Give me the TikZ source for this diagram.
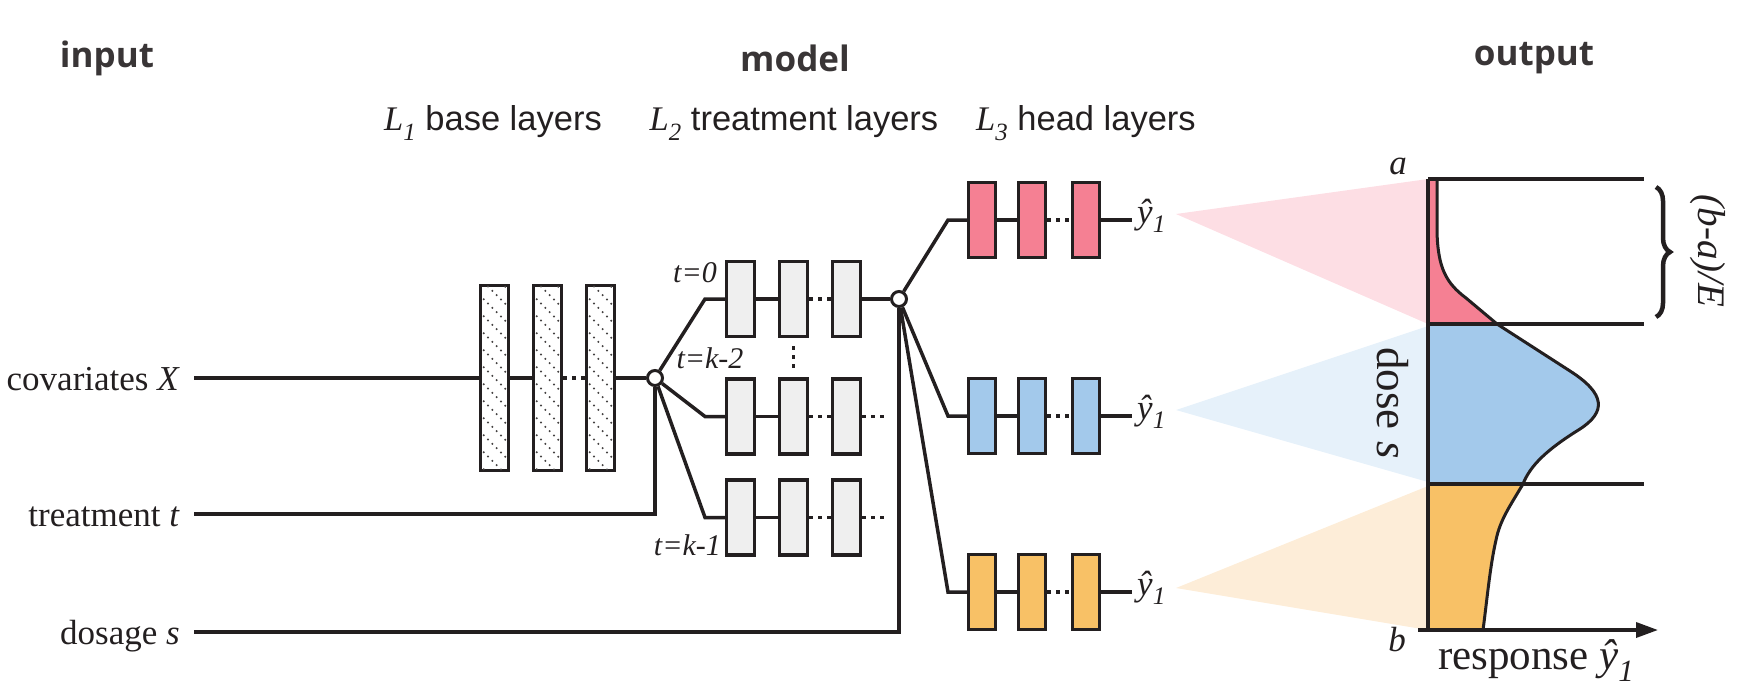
\documentclass[tikz,border=0pt]{standalone}
\usepackage{fontspec}
\usepackage{graphicx}
\setmainfont{Liberation Serif}
\newfontfamily\headfont{Open Sans}
\newfontfamily\sansf{Liberation Sans}
\usetikzlibrary{arrows.meta,decorations.pathreplacing,calc}
\definecolor{ink}{HTML}{231F20}
\definecolor{pinkf}{HTML}{F58093}
\definecolor{bluef}{HTML}{A3C9EB}
\definecolor{orangef}{HTML}{F8C166}
\definecolor{pinkl}{HTML}{FDDEE4}
\definecolor{bluel}{HTML}{E6F1FA}
\definecolor{orangel}{HTML}{FDEDD8}
\definecolor{grayf}{HTML}{EFEFEF}
\newcommand\mysub[1]{\raisebox{-0.28em}{\scalebox{0.72}{\rmfamily\itshape #1}}}
\tikzset{
  ln/.style={line width=3.5pt, draw=ink},
  dotc/.style={line width=3.5pt, draw=ink, dash pattern=on 4pt off 5pt},
  brect/.style={rectangle, draw=ink, line width=3.5pt, fill=white, minimum width=28pt, minimum height=185pt, inner sep=0pt},
  trect/.style={rectangle, draw=ink, line width=3.5pt, fill=grayf, minimum width=28pt, minimum height=75pt, inner sep=0pt},
  hrect/.style={rectangle, draw=ink, line width=3.5pt, minimum width=27pt, minimum height=75pt, inner sep=0pt},
  junc/.style={circle, draw=ink, fill=white, line width=3pt, minimum size=15pt, inner sep=0pt},
  hatch/.style={line width=1.6pt, draw=ink!85, dash pattern=on 1.6pt off 4.5pt},
  lab/.style={font=\fontsize{35}{42}\selectfont, inner sep=0pt, text=ink},
  ilab/.style={font=\itshape\fontsize{35}{42}\selectfont, inner sep=0pt, text=ink},
  big/.style={font=\fontsize{45}{54}\selectfont, inner sep=0pt, text=ink},
  headlab/.style={font=\headfont\bfseries\fontsize{35}{42}\selectfont, inner sep=0pt, text=ink!90},
  sublab/.style={font=\sansf\fontsize{34.5}{40}\selectfont, inner sep=0pt, text=ink},
  tlab/.style={font=\itshape\fontsize{30}{36}\selectfont, inner sep=0pt, text=ink},
}
\begin{document}
\begin{tikzpicture}[x=1pt,y=-1pt]
\useasboundingbox (0,0) rectangle (1763,686);

% headings
\node[headlab] (hin) at (107,58) {input};
\node[headlab] (hmod) at (795,58) {model};
\node[headlab] (hout) at (1534,58) {output};
\node[sublab] (s1) at (493,123) {{\rmfamily\itshape L}\mysub{1} base layers};
\node[sublab] (s2) at (794,123) {{\rmfamily\itshape L}\mysub{2} treatment layers};
\node[sublab] (s3) at (1086,123) {{\rmfamily\itshape L}\mysub{3} head layers};

% input labels
\node[lab, anchor=base east] (lx) at (180,390) {covariates \textit{X}};
\node[lab, anchor=base east] (lt) at (180,526) {treatment \textit{t}};
\node[lab, anchor=base east] (ls) at (180,644) {dosage \textit{s}};
\coordinate (xin) at (194,378);
\coordinate (tin) at (194,514);
\coordinate (sin) at (194,632);

% base layers
\foreach \i/\x in {1/494.5,2/547.5,3/600.5}{
  \node[brect] (b\i) at (\x,378) {};
  \begin{scope}
    \clip ([shift={(1.75,1.75)}]b\i.north west) rectangle ([shift={(-1.75,-1.75)}]b\i.south east);
    \foreach \c in {-119,-102,...,119}
      \draw[hatch] ($(b\i.center)+(-20,\c-20)$) -- ++(40,40);
  \end{scope}
}

% junctions
\node[junc] (c1) at (655,378) {};
\node[junc] (c2) at (899,299) {};

% treatment layers
\foreach \r/\y in {1/299,2/416.5,3/517.5}{
  \foreach \i/\x in {1/740.5,2/793.5,3/846.5}
    \node[trect] (t\r\i) at (\x,\y) {};
  \coordinate (k\r) at (705,\y);
  \draw[ln] (c1) -- (k\r) -- (t\r1);
  \draw[ln] (t\r1) -- (t\r2);
  \draw[dotc] (t\r2) -- (t\r3);
}
\coordinate (e2) at (885,416.5);
\coordinate (e3) at (885,517.5);
\draw[dotc] (t23) -- (e2);
\draw[dotc] (t33) -- (e3);
\draw[dotc, shorten <=8pt, shorten >=7pt] (t12) -- (t22);
\node[tlab, anchor=east] (tl0) at (717,273) {t=0};
\node[tlab] (tl2) at (710,358) {t=k-2};
\node[tlab, anchor=east] (tl1) at (721,545) {t=k-1};

% base connectors
\draw[ln] (xin) -- (b1);
\draw[ln] (b1) -- (b2);
\draw[dotc] (b2) -- (b3);
\draw[ln] (b3) -- (c1);
\draw[ln] (tin) -| (c1.south);
\draw[ln] (t13) -- (c2);
\draw[ln] (sin) -| (c2.south);

% head layers
\foreach \r/\y/\col in {1/220/pinkf,2/416/bluef,3/592/orangef}{
  \foreach \i/\x in {1/982,2/1032,3/1086}
    \node[hrect, fill=\col] (h\r\i) at (\x,\y) {};
  \coordinate (m\r) at (948,\y);
  \coordinate (o\r) at (1132,\y);
  \draw[ln] (c2) -- (m\r) -- (h\r1);
  \draw[ln] (h\r1) -- (h\r2);
  \draw[dotc] (h\r2) -- (h\r3);
  \draw[ln] (h\r3) -- (o\r);
  \node[lab, anchor=base west] (yh\r) at (1137,\y+3) {\textit{ŷ}\mysub{1}};
}

% output plot
\fill[pinkl] (1176,214) -- (1428,179) -- (1428,324) -- cycle;
\fill[bluel] (1176,410) -- (1428,326) -- (1428,482) -- cycle;
\fill[orangel] (1176,588) -- (1428,486) -- (1428,630) -- cycle;

\fill[pinkf] (1428,179) -- (1437,179) -- (1437,232) .. controls (1438,268) and (1446,283) .. (1466,298) -- (1497,324) -- (1428,324) -- cycle;
\fill[bluef] (1428,324) -- (1497,324) -- (1570,371) .. controls (1606,394) and (1606,412) .. (1580,429) .. controls (1546,450) and (1530,466) .. (1523,484) -- (1428,484) -- cycle;
\fill[orangef] (1428,484) -- (1523,484) .. controls (1510,506) and (1500,520) .. (1496,540) .. controls (1490,566) and (1487,600) .. (1483,630) -- (1428,630) -- cycle;
\draw[ink, line width=3pt, line join=round] (1437,179) -- (1437,232) .. controls (1438,268) and (1446,283) .. (1466,298) -- (1497,324) -- (1570,371) .. controls (1606,394) and (1606,412) .. (1580,429) .. controls (1546,450) and (1530,466) .. (1523,484) .. controls (1510,506) and (1500,520) .. (1496,540) .. controls (1490,566) and (1487,600) .. (1483,630);

\coordinate (pa) at (1428,179);
\coordinate (pb) at (1428,630);
\coordinate (g1) at (1428,324);
\coordinate (g2) at (1428,484);
\coordinate (ra) at (1644,179);
\coordinate (r1) at (1644,324);
\coordinate (r2) at (1644,484);
\coordinate (ax0) at (1418,630);
\coordinate (ax1) at (1658,630);
\draw[ln] (pa) -- (ra);
\draw[ln] (g1) -- (r1);
\draw[ln] (g2) -- (r2);
\draw[ln] (pa) -- (pb);
\draw[ln, -{Triangle[length=22pt,width=15pt]}] (ax0) -- (ax1);

\coordinate (br1) at (1656,187);
\coordinate (br2) at (1656,317);
\draw[ink, line width=4.5pt, decorate, decoration={brace, amplitude=14pt}] (br1) -- (br2);
\node[ilab, rotate=-90, font=\itshape\fontsize{39}{46}\selectfont] (bae) at (1708,251) {(b-a)/E};

\node[ilab] (la) at (1398,166) {a};
\node[ilab] (lb) at (1397,640) {b};
\node[big, rotate=-90] (ld) at (1393,403) {dose \textit{s}};
\node[big, font=\fontsize{43}{50}\selectfont, anchor=base] (lr) at (1536,669) {response \textit{ŷ}\mysub{1}};
\end{tikzpicture}
\end{document}
